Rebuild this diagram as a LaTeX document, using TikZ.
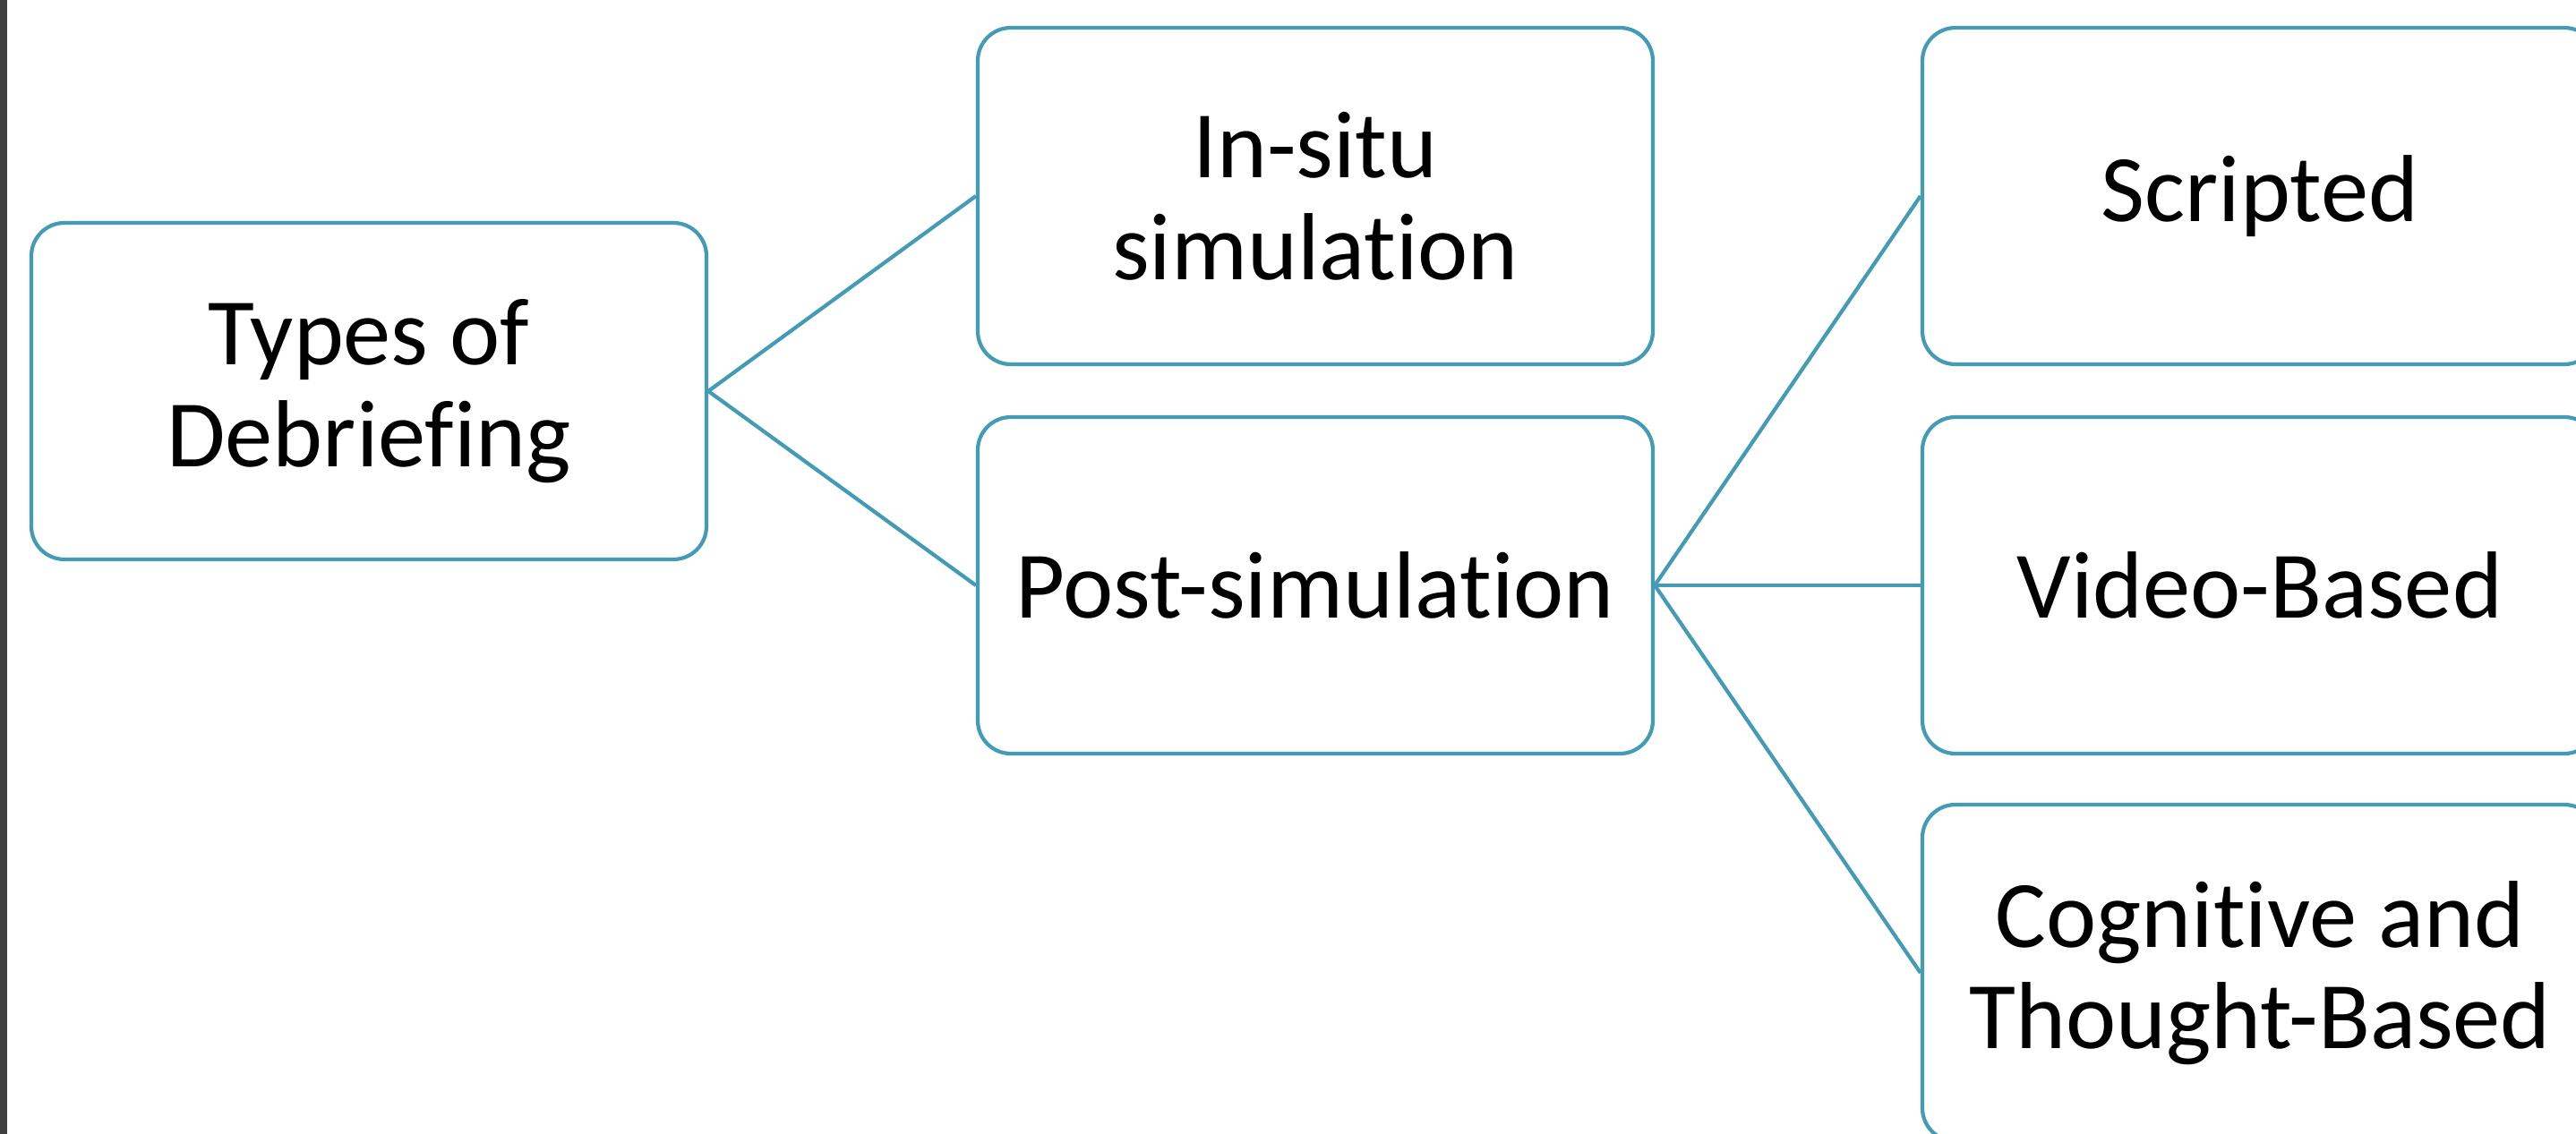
\documentclass[tikz,border=0pt]{standalone}
\usepackage{fontspec}
\setmainfont{Carlito}[Ligatures=NoCommon]
\usepackage{tikz}
\usetikzlibrary{
  positioning,
  calc
}
\usepackage{xcolor}
\definecolor{branch}{RGB}{68,155,181}
\definecolor{sidebar}{RGB}{64,64,64}

\begin{document}
\begin{tikzpicture}[
  every node/.style={font=\fontsize{30.3}{32.3}\selectfont},
  topic/.style={draw=branch, line width=1.2pt, rounded corners=0.37cm,
                minimum width=7.54cm, minimum height=3.76cm, align=center,
                inner sep=0pt},
  link/.style={draw=branch, line width=1.2pt},
]

\useasboundingbox (0,0) rectangle (28.77,-12.67);
\fill[sidebar] (0,0) rectangle (0.08,-12.67);

\node[topic] (root)   at (4.12, -4.37)  {Types of\\Debriefing};
\node[topic] (insitu) at (14.69, -2.19) {In-situ\\simulation};
\node[topic] (post)   at (14.69, -6.54) {Post-simulation};
\node[topic] (script) at (25.24, -2.19) {Scripted};
\node[topic] (video)  at (25.24, -6.54) {Video-Based};
\node[topic] (cogn)   at (25.24, -10.87) {Cognitive and\\Thought-Based};

\draw[link] (root.east) -- (insitu.west);
\draw[link] (root.east) -- (post.west);
\draw[link] (post.east) -- (script.west);
\draw[link] (post.east) -- (video.west);
\draw[link] (post.east) -- (cogn.west);

\end{tikzpicture}
\end{document}
